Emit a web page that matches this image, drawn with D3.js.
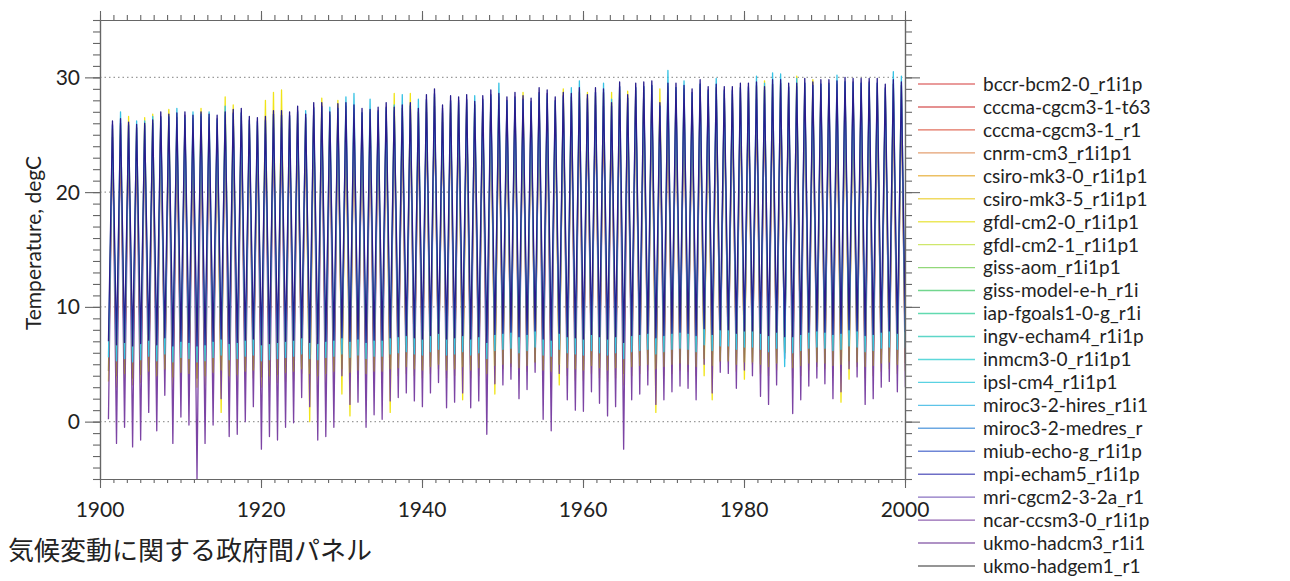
<!DOCTYPE html>
<html>
<head>
<meta charset="utf-8">
<script src="https://cdn.jsdelivr.net/npm/d3@7"></script>
<style>
  html, body { margin: 0; padding: 0; background: #fff; }
  svg { display: block; }
</style>
</head>
<body>
<div id="chart"></div>
<script>
// ── Data ─────────────────────────────────────
const models = [
  "bccr-bcm2-0_r1i1p", "cccma-cgcm3-1-t63", "cccma-cgcm3-1_r1", "cnrm-cm3_r1i1p1",
  "csiro-mk3-0_r1i1p1", "csiro-mk3-5_r1i1p1", "gfdl-cm2-0_r1i1p1", "gfdl-cm2-1_r1i1p1",
  "giss-aom_r1i1p1", "giss-model-e-h_r1i", "iap-fgoals1-0-g_r1i", "ingv-echam4_r1i1p",
  "inmcm3-0_r1i1p1", "ipsl-cm4_r1i1p1", "miroc3-2-hires_r1i1", "miroc3-2-medres_r",
  "miub-echo-g_r1i1p", "mpi-echam5_r1i1p", "mri-cgcm2-3-2a_r1", "ncar-ccsm3-0_r1i1p",
  "ukmo-hadcm3_r1i1", "ukmo-hadgem1_r1"
];
const legendColors = [
  "#e27a7a", "#dc6c6c", "#e2705e", "#e4a072", "#ecc064", "#f0da62", "#ece85c", "#cfe76c",
  "#92d87a", "#72d68e", "#62dab0", "#5ed6c8", "#5ed8da", "#5ad2e2", "#5ec4e8", "#6ca8e2",
  "#6e86d6", "#6e6ec6", "#8a72c2", "#9264b2", "#946eb2", "#727272"
];

const peakYears   = d3.range(1901, 2000);   // July maxima
const troughYears = d3.range(1901, 2001);   // January minima

// csiro-mk3-5 (yellow)
const yellowPeak = [
  25.5, 25.8, 26.6, 25.6, 26.5, 26.8, 26.3, 27.2, 26.5, 26.3,
  26.2, 27.3, 26.3, 26.0, 28.3, 27.6, 26.6, 25.9, 25.8, 28.0,
  28.7, 28.9, 26.4, 26.8, 26.4, 27.0, 28.2, 26.8, 28.0, 27.4,
  27.2, 26.6, 27.0, 26.8, 27.1, 28.6, 27.3, 28.6, 27.0, 27.8,
  28.3, 26.9, 27.7, 27.6, 27.8, 27.6, 27.7, 28.1, 28.3, 27.6,
  28.0, 28.7, 27.5, 28.3, 28.1, 27.6, 29.0, 28.3, 28.8, 28.7,
  28.4, 28.6, 28.7, 28.9, 28.8, 28.8, 28.9, 29.0, 29.0, 29.0,
  28.8, 29.0, 28.3, 29.1, 28.5, 29.1, 28.5, 28.5, 28.8, 28.8,
  29.2, 29.7, 29.4, 29.4, 28.8, 30.1, 29.2, 29.8, 29.1, 29.1,
  29.3, 29.3, 29.2, 29.2, 29.2, 29.2, 28.7, 29.4, 29.3
];
const yellowTrough = [
  3.5, 3.0, 3.8, 3.2, 3.4, 3.6, 3.3, 4.5, 3.0, 3.6,
  3.4, 3.0, 3.2, 3.5, 0.8, 3.3, 3.4, 3.6, 3.8, 3.0,
  3.2, 3.4, 3.5, 3.6, 4.2, 0.0, 3.2, 3.4, 3.6, 2.4,
  0.5, 3.8, 3.4, 3.6, 3.5, 0.8, 4.0, 4.2, 4.0, 3.8,
  4.2, 4.6, 3.8, 4.0, 1.9, 3.8, 4.0, 3.4, 2.4, 4.6,
  4.8, 4.0, 4.4, 5.2, 3.5, 3.4, 3.2, 4.0, 3.6, 3.6,
  4.2, 3.8, 3.5, 3.8, 3.2, 4.0, 4.2, 4.5, 0.8, 4.0,
  4.2, 4.5, 4.4, 4.0, 4.0, 1.9, 5.2, 5.2, 4.4, 3.7,
  5.0, 4.2, 4.0, 4.5, 6.0, 3.8, 4.0, 4.5, 4.8, 4.6,
  4.0, 1.7, 3.7, 4.8, 3.8, 4.0, 4.4, 4.6, 4.2, 4.4
];

// ukmo-hadcm3 (purple)
const purplePeak = [
  25.9, 26.0, 25.8, 25.6, 25.8, 26.0, 26.6, 26.5, 26.5, 26.7,
  26.4, 26.6, 26.5, 26.4, 26.7, 26.9, 26.9, 26.3, 26.2, 26.3,
  26.8, 26.7, 26.7, 27.1, 26.5, 27.4, 27.5, 26.7, 27.3, 27.5,
  27.3, 26.9, 26.9, 27.1, 27.4, 27.1, 27.3, 27.5, 27.0, 28.1,
  28.6, 27.3, 28.0, 28.0, 28.1, 27.6, 28.1, 28.5, 28.3, 28.0,
  28.3, 28.1, 27.9, 28.7, 28.6, 28.0, 28.4, 28.3, 28.7, 28.2,
  28.7, 28.7, 27.5, 29.2, 28.2, 29.1, 29.2, 29.3, 27.5, 29.2,
  29.1, 29.0, 28.7, 29.4, 28.9, 29.1, 28.9, 28.9, 29.1, 29.2,
  29.3, 28.9, 29.4, 29.5, 29.2, 29.2, 29.5, 29.3, 29.4, 29.5,
  29.4, 29.6, 29.6, 29.5, 29.6, 29.5, 29.1, 29.4, 29.3
];
const purpleTrough = [
  0.2, -1.9, -0.5, -2.2, -1.6, 0.8, -0.8, 2.3, -1.9, 0.4,
  -0.3, -5.0, -1.9, -0.3, 2.0, -1.3, -1.1, 0.0, 1.3, -2.4,
  -1.3, -1.6, -0.5, -0.1, 2.1, 1.3, -1.6, -1.3, -0.5, 4.0,
  1.5, 1.7, -0.5, 0.6, 0.2, 1.8, 2.1, 2.5, 1.8, 1.3,
  2.5, 3.4, 1.2, 1.7, 2.5, 1.2, 1.8, -1.1, 3.3, 3.2,
  3.7, 2.0, 2.8, 4.3, 0.2, -0.8, 4.2, 1.9, 1.0, 0.9,
  2.6, 1.6, 0.5, 1.3, -2.4, 1.9, 2.4, 3.2, 1.5, 1.9,
  2.6, 3.1, 2.9, 1.9, 5.0, 2.5, 4.3, 4.2, 2.9, 4.5,
  4.0, 2.2, 1.5, 3.2, 5.5, 0.7, 1.9, 3.1, 3.8, 3.3,
  2.0, 2.6, 4.6, 3.9, 1.5, 2.0, 3.0, 3.5, 2.6, 3.0
];

// cnrm-cm3 (brown)
const brownPeak = [
  24.8, 25.0, 24.7, 24.5, 24.6, 24.9, 25.5, 25.3, 25.4, 25.6,
  25.2, 25.5, 25.3, 25.2, 25.6, 25.7, 25.8, 25.1, 25.0, 25.1,
  25.6, 25.6, 25.5, 26.0, 25.3, 26.3, 26.3, 25.5, 26.2, 26.3,
  26.1, 25.8, 25.7, 25.9, 26.3, 25.9, 26.1, 26.3, 25.8, 27.0,
  27.5, 26.1, 26.9, 26.8, 27.0, 26.4, 26.9, 27.4, 27.1, 26.8,
  27.2, 26.9, 26.7, 27.6, 27.4, 26.8, 27.2, 27.1, 27.6, 27.0,
  27.6, 27.5, 26.3, 28.1, 27.0, 28.0, 28.1, 28.2, 26.3, 28.0,
  28.0, 27.8, 27.5, 28.3, 27.7, 27.9, 27.7, 27.7, 28.0, 28.0,
  28.1, 27.7, 28.3, 28.3, 28.0, 28.0, 28.4, 28.1, 28.3, 28.3,
  28.2, 28.5, 28.4, 28.4, 28.4, 28.4, 27.9, 28.3, 28.1
];
const brownTrough = [
  4.4, 4.0, 4.2, 3.8, 4.1, 4.4, 4.0, 4.6, 3.9, 4.3,
  4.2, 3.8, 4.0, 4.3, 4.5, 4.0, 4.1, 4.4, 4.5, 3.9,
  4.0, 4.1, 4.3, 4.4, 4.6, 4.2, 4.0, 4.2, 4.4, 4.6,
  4.3, 4.5, 4.2, 4.4, 4.4, 4.6, 4.7, 4.8, 4.6, 4.5,
  4.8, 5.0, 4.5, 4.6, 4.8, 4.5, 4.7, 4.2, 4.9, 5.0,
  5.1, 4.7, 4.9, 5.2, 4.5, 4.4, 5.0, 4.7, 4.6, 4.5,
  4.9, 4.7, 4.5, 4.7, 4.2, 4.8, 4.9, 5.0, 4.6, 4.8,
  5.0, 5.1, 5.0, 4.8, 5.5, 4.9, 5.3, 5.3, 5.0, 5.2,
  5.2, 5.0, 4.8, 5.1, 6.0, 4.7, 4.9, 5.1, 5.2, 5.1,
  4.9, 5.0, 5.3, 5.2, 4.8, 4.9, 5.1, 5.2, 5.0, 5.1
];

// ipsl-cm4 (cyan)
const cyanPeak = [
  25.8, 27.0, 25.9, 26.2, 26.2, 26.6, 26.5, 26.6, 27.3, 26.5,
  27.0, 26.8, 27.0, 26.3, 27.5, 26.8, 26.9, 26.2, 26.1, 26.2,
  26.8, 26.7, 26.6, 27.0, 27.1, 27.3, 27.4, 27.4, 27.3, 28.3,
  28.6, 26.9, 28.1, 27.0, 27.3, 27.6, 28.5, 27.6, 28.1, 28.0,
  28.5, 27.1, 27.9, 27.8, 28.0, 28.4, 28.0, 28.4, 29.5, 27.9,
  28.2, 28.0, 27.8, 28.6, 28.4, 27.9, 28.3, 29.1, 29.7, 28.1,
  28.7, 29.5, 28.1, 29.2, 28.2, 29.1, 29.2, 29.3, 27.5, 30.6,
  29.1, 29.7, 28.6, 29.4, 28.8, 29.9, 28.8, 28.8, 29.1, 29.1,
  30.1, 29.5, 30.4, 30.3, 29.1, 29.9, 29.5, 29.3, 29.4, 29.4,
  30.2, 29.6, 29.5, 29.5, 29.5, 29.5, 29.0, 30.5, 30.1
];
const cyanTrough = [
  5.6, 5.3, 5.5, 5.2, 5.4, 5.7, 5.3, 5.9, 5.2, 5.6,
  5.5, 5.2, 5.3, 5.6, 5.8, 5.4, 5.5, 5.7, 5.8, 5.3,
  5.4, 5.5, 5.6, 5.7, 5.9, 5.5, 5.4, 5.6, 5.7, 5.9,
  5.6, 5.8, 5.5, 5.7, 5.7, 5.9, 6.0, 6.1, 5.9, 5.8,
  6.1, 6.3, 5.8, 5.9, 6.1, 5.8, 6.0, 5.5, 6.2, 6.3,
  6.4, 6.0, 6.2, 6.5, 5.8, 5.7, 6.3, 6.0, 5.9, 5.8,
  6.2, 6.0, 5.8, 6.0, 5.5, 6.1, 6.2, 6.3, 5.9, 6.1,
  6.3, 6.4, 6.3, 6.1, 6.7, 6.2, 6.6, 6.6, 6.3, 6.5,
  6.5, 6.3, 6.1, 6.4, 4.8, 6.0, 6.2, 6.4, 6.5, 6.4,
  6.2, 6.3, 6.6, 6.5, 6.1, 6.2, 6.4, 6.5, 6.3, 6.4
];

// mpi-echam5 (navy)
const navyPeak = [
  26.2, 26.4, 26.1, 25.9, 26.0, 26.3, 27.0, 26.8, 26.9, 27.0,
  26.7, 27.0, 26.8, 26.7, 27.0, 27.2, 27.3, 26.6, 26.5, 26.6,
  27.1, 27.1, 27.0, 27.5, 26.8, 27.8, 27.8, 27.0, 27.7, 27.8,
  27.6, 27.3, 27.2, 27.4, 27.8, 27.4, 27.6, 27.8, 27.3, 28.5,
  29.0, 27.6, 28.4, 28.3, 28.5, 27.9, 28.4, 28.9, 28.6, 28.3,
  28.7, 28.4, 28.2, 29.1, 28.9, 28.3, 28.7, 28.6, 29.1, 28.5,
  29.1, 29.0, 27.8, 29.6, 28.5, 29.5, 29.6, 29.7, 27.8, 29.5,
  29.5, 29.3, 29.0, 29.8, 29.2, 29.4, 29.2, 29.2, 29.5, 29.5,
  29.6, 29.2, 29.8, 29.8, 29.5, 29.5, 29.9, 29.6, 29.8, 29.8,
  29.7, 30.0, 29.9, 29.9, 29.9, 29.9, 29.4, 29.8, 29.6
];
const navyTrough = [
  7.0, 6.7, 6.9, 6.6, 6.8, 7.1, 6.7, 7.3, 6.6, 7.0,
  6.9, 6.6, 6.7, 7.0, 7.2, 6.8, 6.9, 7.1, 7.2, 6.7,
  6.8, 6.9, 7.0, 7.1, 7.3, 6.9, 6.8, 7.0, 7.1, 7.3,
  7.0, 7.2, 6.9, 7.1, 7.1, 7.3, 7.4, 7.5, 7.3, 7.2,
  7.5, 7.7, 7.2, 7.3, 7.5, 7.2, 7.4, 6.9, 7.6, 7.7,
  7.8, 7.4, 7.6, 7.9, 7.2, 7.1, 7.7, 7.4, 7.3, 7.2,
  7.6, 7.4, 7.2, 7.4, 6.9, 7.5, 7.6, 7.7, 7.3, 7.5,
  7.7, 7.8, 7.7, 7.5, 8.1, 7.6, 8.0, 8.0, 7.7, 7.9,
  7.9, 7.7, 7.5, 7.8, 7.4, 7.4, 7.6, 7.8, 7.9, 7.8,
  7.6, 7.7, 8.0, 7.9, 7.5, 7.6, 7.8, 7.9, 7.7, 7.8
];

const yTicks      = [0, 10, 20, 30];
const xTicks      = [1900, 1920, 1940, 1960, 1980, 2000];
const yLabel      = "Temperature, degC";
const footerLabel = "気候変動に関する政府間パネル";

// drawn bottom → top
const series = [
  { model: "csiro-mk3-5_r1i1p1", color: "#f0e418", peaks: yellowPeak, troughs: yellowTrough },
  { model: "ukmo-hadcm3_r1i1",   color: "#7c44a4", peaks: purplePeak, troughs: purpleTrough },
  { model: "cnrm-cm3_r1i1p1",    color: "#9a7a4c", peaks: brownPeak,  troughs: brownTrough },
  { model: "ipsl-cm4_r1i1p1",    color: "#36c2e4", peaks: cyanPeak,   troughs: cyanTrough },
  { model: "mpi-echam5_r1i1p",   color: "#281c8c", peaks: navyPeak,   troughs: navyTrough }
];

// ── Layout ───────────────────────────────────
const W = 1290, H = 581;
const plot = { left: 100, right: 905, top: 20, bottom: 479 };
const axisColor = "#666";
const fontFamily = "Lato, 'Open Sans', sans-serif";

const svg = d3.select("#chart").append("svg")
  .attr("width", W)
  .attr("height", H);

svg.append("rect").attr("width", W).attr("height", H).attr("fill", "#fff");

const x = d3.scaleLinear().domain([1900, 2000]).range([plot.left, plot.right]);
const y = d3.scaleLinear().domain([-5, 35]).range([plot.bottom, plot.top]);

svg.append("defs").append("clipPath").attr("id", "plot-clip")
  .append("rect")
  .attr("x", plot.left).attr("y", plot.top)
  .attr("width", plot.right - plot.left)
  .attr("height", plot.bottom - plot.top);

// ── Grid lines ───────────────────────────────
svg.append("g")
  .selectAll("line")
  .data(yTicks)
  .join("line")
  .attr("x1", plot.left).attr("x2", plot.right)
  .attr("y1", d => y(d)).attr("y2", d => y(d))
  .attr("stroke", "#9a9a9a")
  .attr("stroke-width", 1.3)
  .attr("stroke-dasharray", "1.5,3");

// ── Series ───────────────────────────────────
const line = d3.line()
  .x(d => x(d[0]))
  .y(d => y(d[1]));

const gLines = svg.append("g").attr("clip-path", "url(#plot-clip)");

series.forEach(s => {
  const pts = peakYears.flatMap((yr, i) => [
    [yr + 0.05, s.troughs[i]],
    [yr + 0.55, s.peaks[i]]
  ]);
  pts.push([2000.05, s.troughs[troughYears.length - 1]]);

  gLines.append("path")
    .datum(pts)
    .attr("d", line)
    .attr("fill", "none")
    .attr("stroke", s.color)
    .attr("stroke-width", 1.3)
    .attr("stroke-linejoin", "round");
});

// ── Axes ─────────────────────────────────────
const xMinor = d3.range(0, 61).map(k => 1900 + k * 20 / 12);
const yMinor = d3.range(-5, 36);

function styleAxis(g) {
  g.select(".domain").attr("stroke", axisColor).attr("stroke-width", 1.2);
  g.selectAll(".tick line").attr("stroke", axisColor).attr("stroke-width", 1.1);
  g.selectAll(".tick text").remove();
}

// left
svg.append("g").attr("transform", `translate(${plot.left},0)`)
  .call(d3.axisLeft(y).tickValues(yMinor).tickSize(7).tickSizeOuter(0)).call(styleAxis);
svg.append("g").attr("transform", `translate(${plot.left},0)`)
  .call(d3.axisLeft(y).tickValues(yTicks).tickSize(15).tickSizeOuter(0)).call(styleAxis);
// right
svg.append("g").attr("transform", `translate(${plot.right},0)`)
  .call(d3.axisRight(y).tickValues(yMinor).tickSize(7).tickSizeOuter(0)).call(styleAxis);
svg.append("g").attr("transform", `translate(${plot.right},0)`)
  .call(d3.axisRight(y).tickValues(yTicks).tickSize(15).tickSizeOuter(0)).call(styleAxis);
// top
svg.append("g").attr("transform", `translate(0,${plot.top})`)
  .call(d3.axisTop(x).tickValues(xMinor).tickSize(5).tickSizeOuter(0)).call(styleAxis);
svg.append("g").attr("transform", `translate(0,${plot.top})`)
  .call(d3.axisTop(x).tickValues(xTicks).tickSize(9).tickSizeOuter(0)).call(styleAxis);
// bottom
svg.append("g").attr("transform", `translate(0,${plot.bottom})`)
  .call(d3.axisBottom(x).tickValues(xMinor).tickSize(4).tickSizeOuter(0)).call(styleAxis);
svg.append("g").attr("transform", `translate(0,${plot.bottom})`)
  .call(d3.axisBottom(x).tickValues(xTicks).tickSize(9).tickSizeOuter(0)).call(styleAxis);

// ── Tick labels ──────────────────────────────
svg.append("g")
  .selectAll("text")
  .data(yTicks)
  .join("text")
  .attr("x", plot.left - 20)
  .attr("y", d => y(d))
  .attr("dy", "0.36em")
  .attr("text-anchor", "end")
  .attr("font-family", fontFamily)
  .attr("font-size", "21px")
  .attr("fill", "#222")
  .text(d => d);

svg.append("g")
  .selectAll("text")
  .data(xTicks)
  .join("text")
  .attr("x", d => x(d))
  .attr("y", 517)
  .attr("text-anchor", "middle")
  .attr("font-family", fontFamily)
  .attr("font-size", "21px")
  .attr("fill", "#222")
  .text(d => d);

svg.append("text")
  .attr("transform", `translate(41,${243}) rotate(-90)`)
  .attr("text-anchor", "middle")
  .attr("font-family", fontFamily)
  .attr("font-size", "21px")
  .attr("fill", "#222")
  .text(yLabel);

svg.append("text")
  .attr("x", 8)
  .attr("y", 560)
  .attr("font-family", "'Noto Sans CJK JP', sans-serif")
  .attr("font-size", "26px")
  .attr("fill", "#222")
  .text(footerLabel);

// ── Legend ───────────────────────────────────
const legendY = d3.scalePoint().domain(models).range([84, 566]);

const legend = svg.append("g")
  .selectAll("g")
  .data(models)
  .join("g")
  .attr("transform", d => `translate(0,${legendY(d)})`);

legend.append("line")
  .attr("x1", 918).attr("x2", 975)
  .attr("y1", 0).attr("y2", 0)
  .attr("stroke", (d, i) => legendColors[i])
  .attr("stroke-width", 1.4);

legend.append("text")
  .attr("x", 983)
  .attr("y", 0)
  .attr("dy", "0.36em")
  .attr("font-family", fontFamily)
  .attr("font-size", "19px")
  .attr("fill", "#222")
  .text(d => d);
</script>
</body>
</html>
